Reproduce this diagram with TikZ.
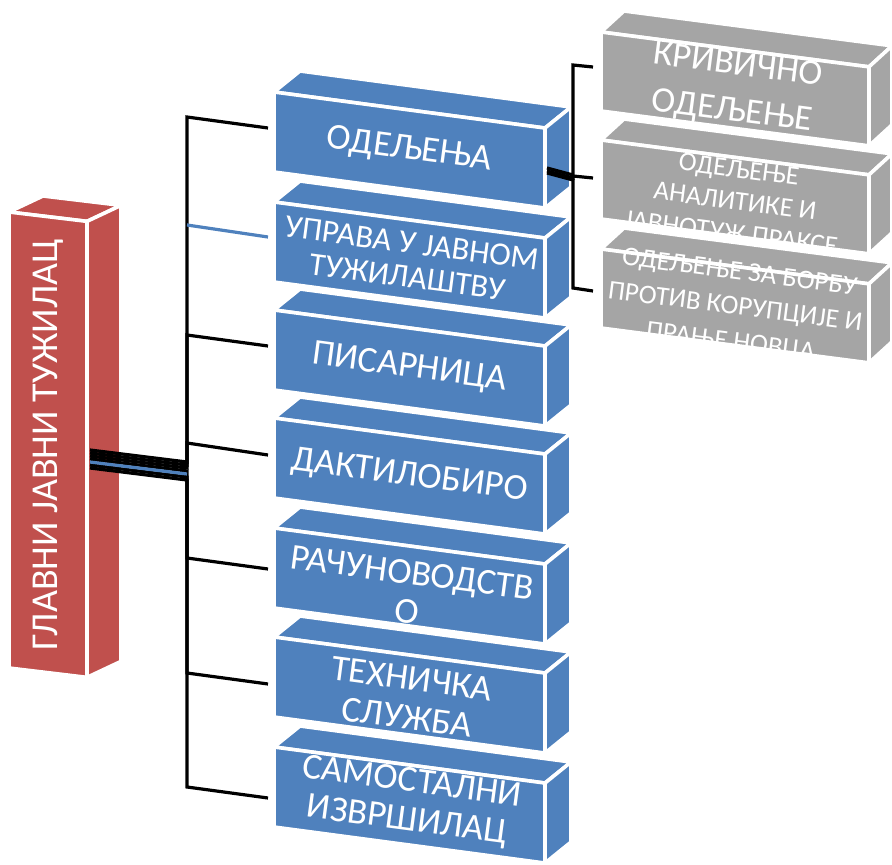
\documentclass[tikz,border=0pt]{standalone}
\usepackage{fontspec}
\setmainfont{Carlito}
\usetikzlibrary{calc}
\definecolor{chiefcolor}{HTML}{C0504D}
\definecolor{unitcolor}{HTML}{4F81BD}
\definecolor{deptcolor}{HTML}{A5A5A5}

% one 3D slab: name, colour, left x, top y (size set by \slabw, \slabh, \slabk, \slabdx, \slabdy)
\newcommand{\slab}[4]{%
  \coordinate (#1-tl) at (#3,#4);
  \coordinate (#1-tr) at ($(#1-tl)+(\slabw,\slabw*\slabk)$);
  \coordinate (#1-bl) at ($(#1-tl)+(0,\slabh)$);
  \coordinate (#1-br) at ($(#1-tr)+(0,\slabh)$);
  \coordinate (#1-c) at ($(#1-tl)!0.5!(#1-br)$);
  \filldraw[face=#2] (#1-tl) -- (#1-tr) -- ++(\slabdx,\slabdy) -- ($(#1-tl)+(\slabdx,\slabdy)$) -- cycle;
  \filldraw[face=#2] (#1-tr) -- (#1-br) -- ++(\slabdx,\slabdy) -- ($(#1-tr)+(\slabdx,\slabdy)$) -- cycle;
  \filldraw[face=#2] (#1-tl) -- (#1-tr) -- (#1-br) -- (#1-bl) -- cycle;
}

\begin{document}
\begin{tikzpicture}[
    x=1pt, y=-1pt,
    face/.style={fill=#1, draw=white, line width=3.6pt, line join=round},
    chieftext/.style={text=white, inner sep=0pt, rotate=90, font=\fontsize{38}{42}\selectfont},
    unittext/.style={text=white, align=center, inner sep=0pt, rotate=-7.6, font=\fontsize{36.5}{39}\selectfont},
    depttext/.style={text=white, align=center, inner sep=0pt, rotate=-7.4, font=\fontsize{27}{35}\selectfont},
    link/.style={line width=3.2pt, black}
]
    \useasboundingbox (0,0) rectangle (892,865);

    % head of office
    \def\slabw{78}\def\slabh{456}\def\slabk{0.12}\def\slabdx{34}\def\slabdy{-16}
    \slab{glavni}{chiefcolor}{9}{212}
    \node[chieftext] (glavni) at (glavni-c) {ГЛАВНИ ЈАВНИ ТУЖИЛАЦ};

    % units
    \def\slabw{271}\def\slabh{80}\def\slabk{0.133}\def\slabdx{26}\def\slabdy{-21}
    \slab{odeljenja}{unitcolor}{274}{92}
    \node[unittext] (odeljenja) at (odeljenja-c) {ОДЕЉЕЊА};
    \slab{uprava}{unitcolor}{274}{202}
    \node[unittext, font=\fontsize{32.5}{34}\selectfont] (uprava) at (uprava-c) {УПРАВА У ЈАВНОМ\\ТУЖИЛАШТВУ};
    \slab{pisarnica}{unitcolor}{274}{310}
    \node[unittext] (pisarnica) at (pisarnica-c) {ПИСАРНИЦА};
    \slab{daktilo}{unitcolor}{274}{418}
    \node[unittext] (daktilo) at (daktilo-c) {ДАКТИЛОБИРО};
    \slab{racun}{unitcolor}{274}{528}
    \node[unittext] (racun) at ($(racun-c)+(0,6)$) {РАЧУНОВОДСТВ\\О};
    \slab{tehnicka}{unitcolor}{274}{637}
    \node[unittext] (tehnicka) at ($(tehnicka-c)+(0,3)$) {ТЕХНИЧКА\\СЛУЖБА};
    \slab{izvrsilac}{unitcolor}{274}{747}
    \node[unittext] (izvrsilac) at ($(izvrsilac-c)+(0,-3)$) {САМОСТАЛНИ\\ИЗВРШИЛАЦ};

    % departments
    \def\slabw{268}\def\slabh{79}\def\slabk{0.13}\def\slabdx{23}\def\slabdy{-21}
    \slab{krivicno}{deptcolor}{601}{32}
    \node[depttext, font=\fontsize{36}{46}\selectfont] (krivicno) at (krivicno-c) {КРИВИЧНО\\ОДЕЉЕЊЕ};
    \slab{analitika}{deptcolor}{601}{140}
    \node[depttext, font=\fontsize{27}{32}\selectfont] (analitika) at ($(analitika-c)+(0,4)$) {ОДЕЉЕЊЕ\\АНАЛИТИКЕ И\\ЈАВНОТУЖ.ПРАКСЕ};
    \slab{korupcija}{deptcolor}{601}{249}
    \begin{scope}
        \clip ($(korupcija-tl)+(0,-40)$) -- ($(korupcija-tr)+(0,-40)$) -- (korupcija-br) -- (korupcija-bl) -- cycle;
        \node[depttext] (korupcija) at ($(korupcija-c)+(0,2)$) {ОДЕЉЕЊЕ ЗА БОРБУ\\ПРОТИВ КОРУПЦИЈЕ И\\ПРАЊЕ НОВЦА};
    \end{scope}

    % connectors to the units
    \coordinate (glavni-e) at (90,450);
    \coordinate (hub) at (187,462);
    \foreach \n/\o/\s/\e in {odeljenja/0/117/128, pisarnica/3/335/346, daktilo/6/443/455,
                              racun/9/558/569, tehnicka/15/673/684, izvrsilac/18/787/798} {
        \coordinate (\n-bus) at (187,\s);
        \coordinate (\n-w) at (268,\e);
        \draw[link] ($(glavni-e)+(0,\o)$) -- ($(hub)+(0,\o)$) -- (\n-bus) -- (\n-w);
    }
    \coordinate (uprava-bus) at (187,225);
    \coordinate (uprava-w) at (268,237);
    \draw[link, unitcolor] ($(glavni-e)+(0,12)$) -- ($(hub)+(0,12)$);
    \draw[link, unitcolor] (uprava-bus) -- (uprava-w);

    % connectors to the departments
    \coordinate (odeljenja-e) at (547,168);
    \coordinate (gbus) at (573,175);
    \foreach \n/\o/\s/\e in {krivicno/0/65/67, analitika/3/176/178, korupcija/5/288/291} {
        \coordinate (\n-bus) at (573,\s);
        \coordinate (\n-w) at (593,\e);
        \draw[link] ($(odeljenja-e)+(0,\o)$) -- ($(gbus)+(0,\o)$) -- (\n-bus) -- (\n-w);
    }
\end{tikzpicture}
\end{document}
